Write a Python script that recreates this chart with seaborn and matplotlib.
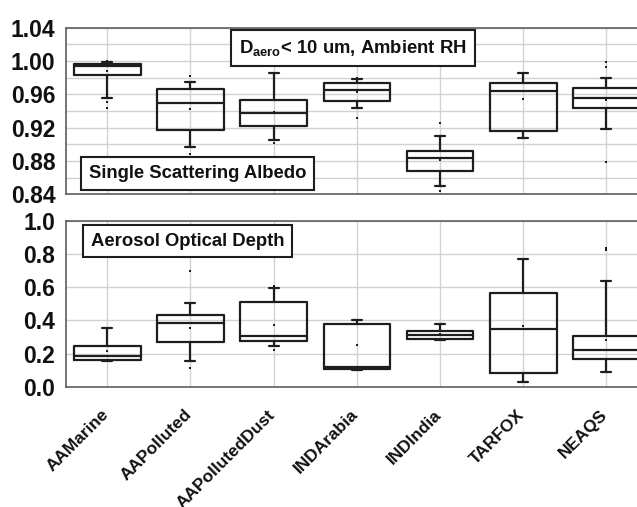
import pandas as pd
import seaborn as sns
import matplotlib.pyplot as plt
import matplotlib.transforms as mtransforms
from matplotlib.ticker import MultipleLocator

# Campaign names along the x axis
CAMPAIGNS = ["AAMarine", "AAPolluted", "AAPollutedDust", "INDArabia",
             "INDIndia", "TARFOX", "NEAQS"]

# Single scattering albedo: whisker ends, quartiles, median, mean
SSA_LO = [0.955, 0.897, 0.905, 0.943, 0.850, 0.908, 0.918]
SSA_Q1 = [0.983, 0.917, 0.922, 0.952, 0.868, 0.916, 0.943]
SSA_MED = [0.994, 0.949, 0.938, 0.965, 0.884, 0.964, 0.955]
SSA_Q3 = [0.997, 0.966, 0.953, 0.973, 0.892, 0.973, 0.968]
SSA_HI = [0.999, 0.975, 0.985, 0.978, 0.910, 0.985, 0.980]
SSA_MEAN = [0.988, 0.942, 0.939, 0.963, 0.881, 0.954, 0.953]
# extra points outside the whiskers
SSA_EXTRA_CAT = ["AAMarine", "AAMarine", "AAMarine", "AAPolluted", "AAPolluted",
                 "AAPollutedDust", "INDArabia", "INDArabia", "INDIndia", "INDIndia",
                 "NEAQS", "NEAQS", "NEAQS"]
SSA_EXTRA_VAL = [1.000, 0.951, 0.944, 0.982, 0.888,
                 0.902, 0.980, 0.931, 0.926, 0.844,
                 0.999, 0.993, 0.879]

# Aerosol optical depth
AOD_LO = [0.157, 0.157, 0.243, 0.099, 0.280, 0.026, 0.090]
AOD_Q1 = [0.162, 0.268, 0.274, 0.108, 0.286, 0.083, 0.170]
AOD_MED = [0.186, 0.382, 0.306, 0.118, 0.310, 0.346, 0.222]
AOD_Q3 = [0.245, 0.430, 0.512, 0.380, 0.338, 0.566, 0.303]
AOD_HI = [0.356, 0.508, 0.598, 0.402, 0.380, 0.768, 0.640]
AOD_MEAN = [0.216, 0.355, 0.375, 0.250, 0.318, 0.366, 0.279]
AOD_EXTRA_CAT = ["AAPolluted", "AAPolluted", "AAPollutedDust", "AAPollutedDust",
                 "NEAQS", "NEAQS"]
AOD_EXTRA_VAL = [0.696, 0.115, 0.606, 0.224, 0.838, 0.822]

LINE = "#1e1e1e"
GRID = "#d2d2d2"
SPINE = "#5e5e5e"


def box_frame(lo, q1, med, q3, hi) -> pd.DataFrame:
    """Five values per campaign, so the quartiles land exactly on q1/med/q3."""
    rows = []
    for i, cat in enumerate(CAMPAIGNS):
        for v in (lo[i], q1[i], med[i], q3[i], hi[i]):
            rows.append({"Campaign": cat, "Value": v})
    return pd.DataFrame(rows)


def dot_frame(mean, extra_cat, extra_val) -> pd.DataFrame:
    cats = list(CAMPAIGNS) + list(extra_cat)
    vals = list(mean) + list(extra_val)
    return pd.DataFrame({"Campaign": cats, "Value": vals})


def draw_panel(ax, boxes, dots):
    sns.boxplot(data=boxes, x="Campaign", y="Value", order=CAMPAIGNS, ax=ax,
                whis=(0, 100), width=0.8, fill=False, color=LINE, linecolor=LINE,
                linewidth=1.6, showfliers=False, capwidths=0.12)
    sns.stripplot(data=dots, x="Campaign", y="Value", order=CAMPAIGNS, ax=ax,
                  jitter=False, color=LINE, marker="s", size=2.0, linewidth=0,
                  zorder=5)
    ax.set_xlim(-0.5, 6.5)
    ax.set_xlabel("")
    ax.set_ylabel("")
    ax.set_axisbelow(True)
    ax.grid(True, which="major", color=GRID, lw=1.0)
    ax.tick_params(axis="y", which="major", length=6, width=1, color=SPINE,
                   pad=1.5, labelsize=16.5)
    ax.tick_params(axis="y", which="minor", length=3, width=1, color=SPINE)
    ax.tick_params(axis="x", which="major", length=5, width=1, color=SPINE,
                   direction="out")
    for side in ("left", "top", "bottom"):
        ax.spines[side].set_visible(True)
        ax.spines[side].set_color(SPINE)
        ax.spines[side].set_linewidth(1.2)
    ax.spines["right"].set_visible(False)


def label_box(ax, x, y, text):
    ax.text(x, y, text, transform=ax.transAxes, ha="center", va="center",
            fontsize=13.3, fontweight="bold", zorder=10,
            bbox=dict(boxstyle="square,pad=0.42", fc="white", ec=LINE, lw=1.5))


def main():
    sns.set_theme(style="whitegrid")
    plt.rcParams["font.family"] = ["Liberation Sans", "DejaVu Sans"]
    plt.rcParams["mathtext.fontset"] = "custom"
    plt.rcParams["mathtext.rm"] = "Liberation Sans:bold"
    plt.rcParams["mathtext.it"] = "Liberation Sans:bold"
    plt.rcParams["mathtext.bf"] = "Liberation Sans:bold"
    plt.rcParams["text.color"] = "#111111"
    plt.rcParams["ytick.color"] = "#111111"
    plt.rcParams["xtick.color"] = "#111111"

    fig = plt.figure(figsize=(6.37, 5.07), dpi=100)
    ax1 = fig.add_axes([0.1031, 0.6168, 0.9143, 0.3286])
    ax2 = fig.add_axes([0.1031, 0.2373, 0.9143, 0.3268])

    # Top panel: single scattering albedo
    draw_panel(ax1, box_frame(SSA_LO, SSA_Q1, SSA_MED, SSA_Q3, SSA_HI),
               dot_frame(SSA_MEAN, SSA_EXTRA_CAT, SSA_EXTRA_VAL))
    ax1.set_ylim(0.84, 1.04)
    ax1.yaxis.set_minor_locator(MultipleLocator(0.02))
    ax1.set_yticks([0.84, 0.88, 0.92, 0.96, 1.00, 1.04])
    ax1.set_yticklabels(["0.84", "0.88", "0.92", "0.96", "1.00", "1.04"],
                        fontweight="bold")
    ax1.grid(True, which="minor", axis="y", color=GRID, lw=1.0)
    ax1.set_xticklabels([])
    label_box(ax1, 0.4933, 0.878, r"D$_{\mathrm{aero}}$< 10 um, Ambient RH")
    label_box(ax1, 0.227, 0.125, "Single Scattering Albedo")

    # Bottom panel: aerosol optical depth
    draw_panel(ax2, box_frame(AOD_LO, AOD_Q1, AOD_MED, AOD_Q3, AOD_HI),
               dot_frame(AOD_MEAN, AOD_EXTRA_CAT, AOD_EXTRA_VAL))
    ax2.set_ylim(0.0, 1.0)
    ax2.set_yticks([0.0, 0.2, 0.4, 0.6, 0.8, 1.0])
    ax2.set_yticklabels(["0.0", "0.2", "0.4", "0.6", "0.8", "1.0"],
                        fontweight="bold")
    ax2.yaxis.set_minor_locator(MultipleLocator(0.1))
    ax2.set_xticks(range(len(CAMPAIGNS)))
    ax2.set_xticklabels(CAMPAIGNS, rotation=45, ha="right", va="top",
                        fontsize=12.4, fontweight="bold")
    # the rotated labels hang a little below their ticks
    shift = mtransforms.ScaledTranslation(0.04, -0.085, fig.dpi_scale_trans)
    for lab in ax2.get_xticklabels():
        lab.set_transform(lab.get_transform() + shift)

    label_box(ax2, 0.209, 0.879, "Aerosol Optical Depth")

    fig.savefig("out.png", dpi=100)


if __name__ == "__main__":
    main()
